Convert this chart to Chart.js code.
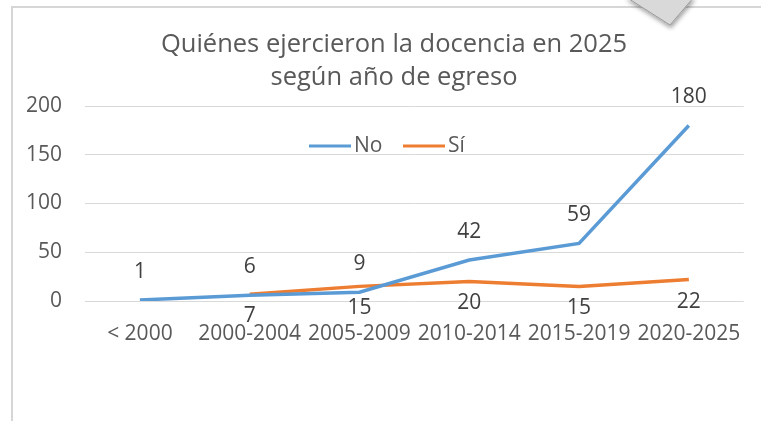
<!DOCTYPE html>
<html>
<head>
<meta charset="utf-8">
<script src="https://cdn.jsdelivr.net/npm/chart.js@4.4.1/dist/chart.umd.min.js"></script>
<style>
    html, body { margin: 0; padding: 0; background: #fff; }
    body { width: 761px; height: 421px; position: relative; overflow: hidden; }
    #frame {
        position: absolute; left: 11px; top: 6px; width: 800px; height: 460px;
        border: 2px solid #d6d6d6; box-sizing: border-box;
    }
    #wrap { position: absolute; left: 0; top: 0; width: 761px; height: 421px; }
    #shape { position: absolute; left: 0; top: 0; }
</style>
</head>
<body>
<div id="frame"></div>
<div id="wrap"><canvas id="chart" width="761" height="421"></canvas></div>
<svg id="shape" width="761" height="40">
    <defs>
        <filter id="sh" x="-20%" y="-20%" width="140%" height="160%">
            <feDropShadow dx="1" dy="3" stdDeviation="2" flood-color="#000" flood-opacity="0.35"/>
        </filter>
    </defs>
    <polygon points="626,-3 670,25 694,-3" fill="#d9d9d9" stroke="#9a9a9a" stroke-width="1" filter="url(#sh)"/>
</svg>

<script>
// ---------------- DATA ----------------
const titleLines = ["Quiénes ejercieron la docencia en 2025", "según año de egreso"];
const categories = ["< 2000", "2000-2004", "2005-2009", "2010-2014", "2015-2019", "2020-2025"];
const noValues = [1, 6, 9, 42, 59, 180];
const siValues = [null, 7, 15, 20, 15, 22];
const yTicks = [0, 50, 100, 150, 200];

const FONT = "'Open Sans', sans-serif";
const TEXT = "#595959";

// ---------------- EXTRAS (title, legend, labels) ----------------
const extras = {
    id: "extras",
    afterDatasetsDraw(chart) {
        const c = chart.ctx;
        c.save();

        // TITLE
        c.fillStyle = TEXT;
        c.font = "25.5px " + FONT;
        c.textAlign = "center";
        c.textBaseline = "middle";
        c.fillText(titleLines[0], 394, 45);
        c.fillText(titleLines[1], 394, 78);

        // LEGEND
        c.font = "21px " + FONT;
        c.textAlign = "left";
        c.lineWidth = 3;
        const legendY = 146;
        const items = [
            { x: 309, label: "No", color: chart.data.datasets[0].borderColor },
            { x: 403, label: "Sí", color: chart.data.datasets[1].borderColor }
        ];
        items.forEach(it => {
            c.strokeStyle = it.color;
            c.beginPath();
            c.moveTo(it.x, legendY);
            c.lineTo(it.x + 42, legendY);
            c.stroke();
            c.fillStyle = TEXT;
            c.fillText(it.label, it.x + 45, legendY);
        });

        // DATA LABELS
        c.fillStyle = "#404040";
        c.textAlign = "center";
        chart.data.datasets.forEach((ds, i) => {
            const meta = chart.getDatasetMeta(i);
            meta.data.forEach((pt, j) => {
                const v = ds.data[j];
                if (v === null) return;
                const dy = i === 0 ? -28 : 22;
                c.fillText(String(v), pt.x, pt.y + dy);
            });
        });

        c.restore();
    }
};

// ---------------- CHART ----------------
new Chart(document.getElementById("chart"), {
    type: "line",

    data: {
        labels: categories,
        datasets: [
            {
                label: "No",
                data: noValues,
                borderColor: "#5b9bd5",
                borderWidth: 3.5,
                pointRadius: 0,
                tension: 0
            },
            {
                label: "Sí",
                data: siValues,
                borderColor: "#ed7d31",
                borderWidth: 3.5,
                pointRadius: 0,
                tension: 0
            }
        ]
    },

    options: {
        responsive: false,
        animation: false,
        layout: {
            padding: { top: 106, right: 9, left: 0, bottom: 70 }
        },
        plugins: {
            legend: { display: false },
            title: { display: false },
            tooltip: { enabled: false }
        },
        scales: {
            x: {
                offset: true,
                grid: { display: false, drawTicks: false },
                border: { display: false },
                ticks: {
                    color: TEXT,
                    font: { family: FONT, size: 21 },
                    padding: 20,
                    maxRotation: 0,
                    autoSkip: false
                },
                afterFit(scale) { scale.height = 50; }
            },
            y: {
                min: 0,
                max: 200,
                afterBuildTicks(scale) {
                    scale.ticks = yTicks.map(v => ({ value: v }));
                },
                grid: { color: "#d9d9d9", lineWidth: 1, drawTicks: false },
                border: { display: false },
                ticks: {
                    color: TEXT,
                    font: { family: FONT, size: 21 },
                    padding: 23
                },
                afterFit(scale) { scale.width = 85; }
            }
        }
    },

    plugins: [extras]
});
</script>
</body>
</html>
